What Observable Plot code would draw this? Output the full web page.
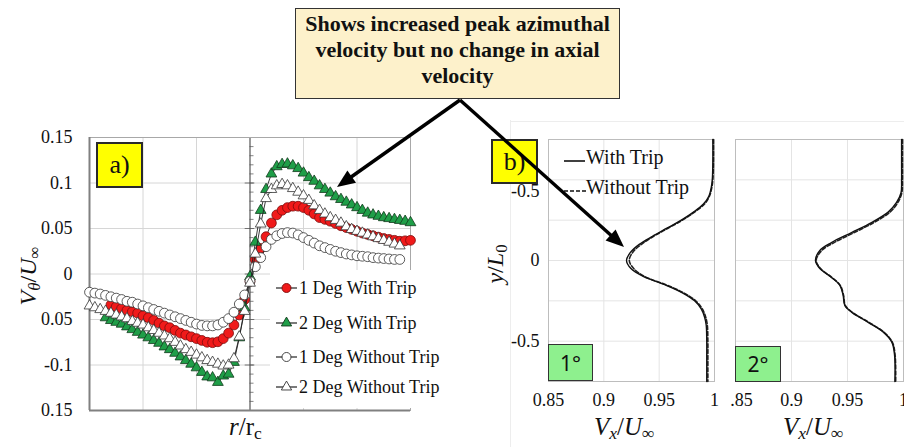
<!DOCTYPE html>
<html><head><meta charset="utf-8">
<script src="https://cdn.jsdelivr.net/npm/d3@7"></script>
<script src="https://cdn.jsdelivr.net/npm/@observablehq/plot@0.6"></script>
<style>
body{margin:0;background:#fff;}
#page{position:relative;width:904px;height:447px;overflow:hidden;background:#fff;font-family:"Liberation Serif","Times New Roman",serif;color:#111;}
.box{position:absolute;box-sizing:border-box;display:flex;align-items:center;justify-content:center;}
.lbl{position:absolute;white-space:nowrap;line-height:1;}
sub{font-size:70%;vertical-align:-0.25em;}
</style></head><body><div id="page"></div>
<script>
// ---------- Panel a data (r/rc vs Vθ/U∞) ----------
const rGrid = [-3.0,-2.9,-2.8,-2.7,-2.6,-2.5,-2.4,-2.3,-2.2,-2.1,-2.0,-1.9,-1.8,-1.7,-1.6,-1.5,-1.4,-1.3,-1.2,-1.1,-1.0,-0.9,-0.8,-0.7,-0.6,-0.5,-0.4,-0.3,-0.2,-0.1,0,0.1,0.2,0.3,0.4,0.5,0.6,0.7,0.8,0.9,1.0,1.1,1.2,1.3,1.4,1.5,1.6,1.7,1.8,1.9,2.0,2.1,2.2,2.3,2.4,2.5,2.6,2.7,2.8,2.9,3.0];
const deg1With = [null,null,null,null,-0.034,-0.036,-0.038,-0.040,-0.0415,-0.043,
  -0.046,-0.048,-0.051,-0.054,-0.057,-0.059,-0.062,-0.065,-0.067,-0.069,
  -0.071,-0.073,-0.075,-0.0755,-0.0745,-0.071,-0.065,-0.056,-0.045,-0.028,
  -0.008,
  0.016,0.028,0.041,0.056,0.065,0.070,0.073,0.0745,0.0745,0.073,
  0.070,0.066,0.062,0.060,0.058,0.0555,0.053,0.051,0.049,0.047,
  0.045,0.0435,0.042,0.0405,0.039,0.038,0.037,0.036,0.0365,0.037];
const deg2With = [null,null,null,-0.048,-0.051,-0.053,-0.055,-0.058,-0.061,-0.064,
  -0.067,-0.070,-0.073,-0.076,-0.080,-0.083,-0.087,-0.091,-0.095,-0.099,
  -0.103,-0.108,-0.113,-0.114,-0.119,-0.112,-0.110,-0.097,-0.070,-0.037,
  -0.003,
  0.035,0.070,0.093,0.110,0.118,0.1205,0.121,0.119,0.116,0.111,
  0.106,0.102,0.097,0.093,0.089,0.085,0.082,0.079,0.076,0.073,
  0.070,0.067,0.065,0.0635,0.062,0.061,0.060,0.059,0.058,0.0565];
const deg1Without = [-0.020,-0.021,-0.022,-0.0235,-0.025,-0.0265,-0.028,-0.030,-0.031,-0.033,
  -0.035,-0.037,-0.039,-0.041,-0.043,-0.045,-0.047,-0.049,-0.051,-0.053,
  -0.055,-0.0565,-0.057,-0.057,-0.056,-0.053,-0.049,-0.042,-0.033,-0.023,
  -0.008,
  0.008,0.018,0.030,0.038,0.042,0.0445,0.0455,0.045,0.043,0.040,
  0.037,0.034,0.031,0.029,0.027,0.025,0.0235,0.022,0.021,0.020,
  0.0195,0.019,0.018,0.0175,0.017,0.0165,0.016,0.016,null,null];
const deg2Without = [-0.035,-0.037,-0.039,-0.041,-0.043,-0.045,-0.047,-0.049,-0.052,-0.054,
  -0.056,-0.059,-0.062,-0.065,-0.068,-0.071,-0.075,-0.079,-0.083,-0.086,
  -0.089,-0.092,-0.095,-0.097,-0.099,-0.101,-0.100,-0.093,-0.069,-0.041,
  -0.010,
  0.022,0.055,0.083,0.093,0.097,0.0985,0.097,0.094,0.090,0.086,
  0.081,0.075,0.070,0.066,0.062,0.059,0.056,0.052,0.049,0.047,
  0.045,0.043,0.041,0.039,0.037,0.035,0.033,0.031,null,null];
const seriesNames = ["1 Deg With Trip","2 Deg With Trip","1 Deg Without Trip","2 Deg Without Trip"];
const seriesValues = [deg1With, deg2With, deg1Without, deg2Without];
const yTicksA = [0.15,0.1,0.05,0,-0.05,-0.1,-0.15];
const yTickLabelsA = ["0.15","0.1","0.05","0","0.05","-0.1","0.15"];
const gridXA = [-2,-1,1,2];
const gridYA = [0.1,0.05,0,-0.05,-0.1];

// ---------- Panel b data (Vx/U∞ vs y/L0) ----------
const yB1 = [0.75,0.6,0.5,0.45,0.4,0.35,0.3,0.25,0.2,0.15,0.1,0.05,0,-0.05,-0.1,-0.15,-0.2,-0.25,-0.3,-0.35,-0.4,-0.5,-0.6,-0.75];
const b1With = [0.9985,0.9985,0.998,0.997,0.995,0.990,0.981,0.970,0.957,0.944,0.932,0.924,0.9205,0.9245,0.936,0.955,0.971,0.982,0.988,0.991,0.9925,0.993,0.993,0.993];
const b1Without = [0.999,0.999,0.9985,0.9975,0.9955,0.991,0.982,0.971,0.958,0.945,0.934,0.926,0.923,0.927,0.937,0.956,0.972,0.983,0.989,0.992,0.9935,0.994,0.994,0.994];
const yB2 = [0.75,0.6,0.5,0.42,0.36,0.3,0.235,0.173,0.111,0.062,0,-0.05,-0.105,-0.154,-0.216,-0.278,-0.32,-0.383,-0.444,-0.506,-0.586,-0.75];
const b2With = [0.9983,0.9983,0.9983,0.9978,0.9938,0.9863,0.9714,0.9536,0.9357,0.9253,0.9214,0.9253,0.9357,0.9432,0.9461,0.9476,0.9536,0.9685,0.982,0.9896,0.992,0.9923];
const b2Without = [0.999,0.999,0.999,0.9985,0.995,0.988,0.9735,0.956,0.938,0.927,0.922,0.926,0.936,0.9435,0.9465,0.948,0.954,0.969,0.9825,0.990,0.9925,0.993];
const xTicksB1 = [0.85,0.9,0.95,1];
const xTickLabelsB1 = ["0.85","0.9","0.95","1"];
const xTicksB2 = [0.9,0.95,1];
const xTickLabelsB2 = ["0.9","0.95","1"];
const clippedTickB2 = ".85";
const yTickPosB = [0.43,0,-0.5];
const yTickLabelsB = ["-0.5","0","-0.5"];
const gridXB = [0.9,0.95];
const gridYB = [-0.5,-0.25,0,0.25,0.5];

// ---------- Text ----------
const calloutLines = ["Shows increased peak azimuthal","velocity but no change in axial","velocity"];

// ---------- Styles ----------
const seriesStyle = {
  "1 Deg With Trip": {symbol:"circle", r:4.9, fill:"#f01a1a", stroke:"#7a0c0c"},
  "2 Deg With Trip": {symbol:"triangle", r:4.0, fill:"#1f9e48", stroke:"#123a1c"},
  "1 Deg Without Trip": {symbol:"circle", r:4.9, fill:"#ffffff", stroke:"#333333"},
  "2 Deg Without Trip": {symbol:"triangle", r:4.0, fill:"#ffffff", stroke:"#333333"}
};
const serif = '"Liberation Serif","Times New Roman",serif';
const page = document.getElementById("page");
function place(el, left, top, z){el.style.position="absolute";el.style.left=left+"px";el.style.top=top+"px";if(z!=null)el.style.zIndex=z;page.appendChild(el);return el;}
function div(html, cls, css){const d=document.createElement("div");d.className=cls||"";d.innerHTML=html;Object.assign(d.style,css||{});return d;}

// ---------- Panel a ----------
const rowsA = seriesNames.flatMap((s,k)=>rGrid.map((r,i)=>({s,r,v:seriesValues[k][i]})).filter(d=>d.v!==null));
const minorTicksA = d3.range(-15,16).map(k=>k/100);
const seriesMarks = seriesNames.flatMap(s=>{
  const data = rowsA.filter(d=>d.s===s); const st = seriesStyle[s];
  return [Plot.line(data,{x:"r",y:"v",stroke:"#222",strokeWidth:0.9}),
          Plot.dot(data,{x:"r",y:"v",r:st.r,symbol:st.symbol,fill:st.fill,stroke:st.stroke,strokeWidth:0.8})];
});
const plotA = Plot.plot({
  width:460,height:447,marginLeft:89,marginRight:50,marginTop:137,marginBottom:37,
  style:{fontFamily:serif,fontSize:"18px",color:"#111",background:"transparent"},
  x:{domain:[-3,3],axis:null},
  y:{domain:[-0.15,0.15],axis:null},
  marks:[
    Plot.gridX(gridXA,{stroke:"#d6d6d6",strokeOpacity:1}),
    Plot.gridY(gridYA,{stroke:"#d6d6d6",strokeOpacity:1}),
    Plot.ruleY(minorTicksA,{x1:0,x2:0.075,stroke:"#666",strokeWidth:0.8}),
    Plot.ruleY(gridYA,{x1:-0.09,x2:0.09,stroke:"#666",strokeWidth:0.9}),
    Plot.ruleX([0],{stroke:"#555",strokeWidth:1.2}),
    Plot.frame({stroke:"#a8a8a8"}),
    Plot.ruleX([-3],{stroke:"#808080",strokeWidth:2}),
    Plot.ruleY([-0.15],{stroke:"#808080",strokeWidth:2}),
    Plot.axisY(yTicksA,{tickFormat:d=>yTickLabelsA[yTicksA.indexOf(d)],tickSize:0,tickPadding:17,label:null}),
    ...seriesMarks
  ]
});
place(plotA,0,0,1);

// legend a
const legA = div("","",{width:"190px",height:"138px",background:"#fff"});
place(legA,270,270,2);
const legRowsY = [288,323,357,387];
seriesNames.forEach((s,i)=>{
  const st = seriesStyle[s];
  const sym = d3.symbol(st.symbol==="circle"?d3.symbolCircle:d3.symbolTriangle, st.symbol==="circle"?64:46)();
  const svg = `<svg width="24" height="16" style="position:absolute;left:0;top:0"><line x1="1" y1="8" x2="22" y2="8" stroke="#222" stroke-width="1.2"/><path transform="translate(11.5,8)" d="${sym}" fill="${st.fill}" stroke="${st.stroke}" stroke-width="0.9"/></svg>`;
  place(div(svg,"",{width:"24px",height:"16px"}),275,legRowsY[i]-8,3);
  place(div(s,"lbl",{fontSize:"18px",fontFamily:serif}),299,legRowsY[i]-9,3);
});

// axis titles a
place(div('<i>V</i><sub><i>θ</i></sub>/<i>U</i><sub>∞</sub>',"lbl",{fontSize:"24px",transform:"rotate(-90deg)",transformOrigin:"center center",width:"80px",textAlign:"center"}),-10,262,3);
place(div('<i>r</i>/r<sub>c</sub>',"lbl",{fontSize:"25px"}),229,414,3);

// ---------- Panel b ----------
function rows(ys, vs){return ys.map((y,i)=>({y,v:vs[i]}));}
function profile(opts){
  return Plot.plot({
    width:opts.width,height:327,marginLeft:opts.ml,marginRight:opts.mr,marginTop:19,marginBottom:66,
    style:{fontFamily:serif,fontSize:"18px",color:"#111",background:"transparent"},
    x:{domain:[0.85,1],axis:null},
    y:{domain:[-0.75,0.75],axis:null},
    marks:[
      Plot.gridX(gridXB,{stroke:"#e4e4e4",strokeOpacity:1}),
      Plot.gridY(gridYB,{stroke:"#e4e4e4",strokeOpacity:1}),
      Plot.frame({stroke:"#bdbdbd"}),
      Plot.axisX(opts.ticks,{tickFormat:d=>opts.tickLabels[opts.ticks.indexOf(d)],tickSize:0,tickPadding:12,label:null}),
      ...opts.extra,
      Plot.line(rows(opts.ys,opts.without),{x:"v",y:"y",curve:"catmull-rom",stroke:"#222",strokeWidth:1.6,strokeDasharray:"4,2"}),
      Plot.line(rows(opts.ys,opts.with),{x:"v",y:"y",curve:"catmull-rom",stroke:"#111",strokeWidth:1.4})
    ]
  });
}
const yLabB = yTickPosB.map((y,i)=>({y,label:yTickLabelsB[i]}));
const plotB1 = profile({width:230,ml:48,mr:16,ys:yB1,with:b1With,without:b1Without,ticks:xTicksB1,tickLabels:xTickLabelsB1,
  extra:[Plot.text(yLabB,{y:"y",text:"label",frameAnchor:"left",textAnchor:"end",dx:-9})]});
const plotB2 = profile({width:174,ml:5,mr:1,ys:yB2,with:b2With,without:b2Without,ticks:xTicksB2,tickLabels:xTickLabelsB2,
  extra:[Plot.text([0.85],{x:d=>d,text:()=>clippedTickB2,frameAnchor:"bottom",lineAnchor:"top",dy:12,dx:6})]});
place(plotB1,500,120,1);
place(plotB2,730,120,1);

// faint frame of panel b
place(div("","",{width:"1px",height:"327px",background:"#ededed"}),510,120,0);
place(div("","",{width:"394px",height:"1px",background:"#ededed"}),510,121,0);

// legend b
place(div('<svg width="24" height="10"><line x1="1" y1="5" x2="22" y2="5" stroke="#111" stroke-width="1.6"/></svg>',"",{}),563,152,3);
place(div('<svg width="24" height="10"><line x1="1" y1="5" x2="23" y2="5" stroke="#111" stroke-width="1.6" stroke-dasharray="4,2"/></svg>',"",{}),563,182,3);
place(div("With Trip","lbl",{fontSize:"20px"}),586,147,3);
place(div("Without Trip","lbl",{fontSize:"20px"}),586,177,3);

// axis titles b
place(div('<i>y</i>/<i>L</i><sub>0</sub>',"lbl",{fontSize:"24px",transform:"rotate(-90deg)",transformOrigin:"center center",width:"60px",textAlign:"center"}),467,250,3);
place(div('<i>V<sub>x</sub></i>/<i>U</i><sub>∞</sub>',"lbl",{fontSize:"25px"}),594,414,3);
place(div('<i>V<sub>x</sub></i>/<i>U</i><sub>∞</sub>',"lbl",{fontSize:"25px"}),783,414,3);

// ---------- Label boxes ----------
const yellowCss = {background:"#ffff00",border:"2px solid #2a2a2a",fontSize:"26px",fontFamily:serif};
place(div("a)","box",Object.assign({width:"47px",height:"46px"},yellowCss)),96,142,4);
place(div("b)","box",Object.assign({width:"47px",height:"45px"},yellowCss)),491,139,4);
const greenCss = {background:"#8ef08e",border:"1.5px solid #333",fontSize:"21px",fontFamily:'"Noto Sans","Liberation Sans",sans-serif'};
place(div("1°","box",Object.assign({width:"45px",height:"37px"},greenCss)),548,344,4);
place(div("2°","box",Object.assign({width:"46px",height:"36px"},greenCss)),735,346,4);

// callout box
place(div(calloutLines.join("<br>"),"",{boxSizing:"border-box",width:"325px",height:"91px",background:"#fdf1cb",border:"1.5px solid #333",
  fontFamily:serif,fontWeight:"bold",fontSize:"22px",lineHeight:"26px",textAlign:"center",paddingTop:"2px"}),295,8,5);

// ---------- Arrows (annotation) ----------
const arrowStart = [460,100];
const arrowTips = [[337,187],[624,247]];
const ov = d3.create("svg").attr("width",904).attr("height",447).style("position","absolute").style("left","0").style("top","0").style("z-index","6").style("pointer-events","none");
arrowTips.forEach(t=>{
  const dx=t[0]-arrowStart[0], dy=t[1]-arrowStart[1], L=Math.hypot(dx,dy), ux=dx/L, uy=dy/L;
  const hl=18, hw=7.5;
  const bx=t[0]-ux*hl, by=t[1]-uy*hl;
  ov.append("line").attr("x1",arrowStart[0]).attr("y1",arrowStart[1]).attr("x2",bx+ux*2).attr("y2",by+uy*2).attr("stroke","#000").attr("stroke-width",3.4);
  ov.append("path").attr("d",`M${t[0]},${t[1]}L${bx-uy*hw},${by+ux*hw}L${bx+uy*hw},${by-ux*hw}Z`).attr("fill","#000");
});
page.appendChild(ov.node());
</script>
</body></html>
